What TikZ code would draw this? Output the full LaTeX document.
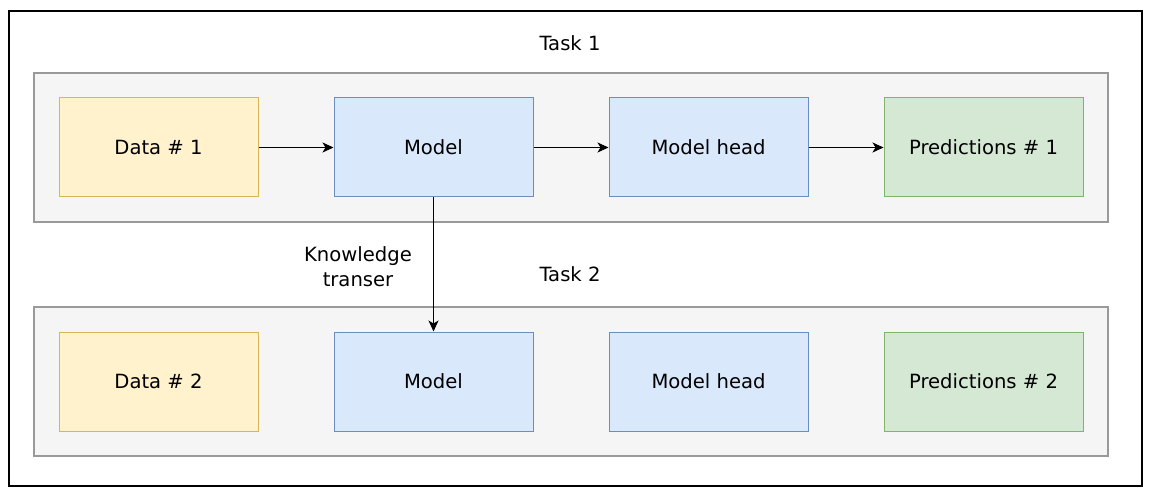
\documentclass[tikz,border=0pt]{standalone}
\usepackage{fontspec}
\setmainfont{DejaVu Sans}
\usetikzlibrary{arrows.meta}
\definecolor{yfill}{HTML}{FFF2CC}\definecolor{ydraw}{HTML}{D6B656}
\definecolor{bfill}{HTML}{DAE8FC}\definecolor{bdraw}{HTML}{6C8EBF}
\definecolor{gfill}{HTML}{D5E8D4}\definecolor{gdraw}{HTML}{82B366}
\definecolor{pfill}{HTML}{F5F5F5}\definecolor{pdraw}{HTML}{999999}
\begin{document}
\begin{tikzpicture}[x=1pt,y=-1pt,line width=1pt,
  every node/.style={font=\fontsize{19.6}{25}\selectfont},
  box/.style={draw,minimum width=199pt,minimum height=99pt,inner sep=0pt,anchor=center},
  ybox/.style={box,fill=yfill,draw=ydraw},
  bbox/.style={box,fill=bfill,draw=bdraw},
  gbox/.style={box,fill=gfill,draw=gdraw},
  panel/.style={fill=pfill,draw=pdraw,line width=1.2pt},
  conn/.style={-{Stealth[length=11pt,width=10pt,inset=3pt]},line width=1pt}]
\useasboundingbox (0,0) rectangle (1150,494);
\draw[line width=1.2pt] (9,11) rectangle (1142,486);
\node (t1) at (570,43) {Task 1};
\draw[panel] (34,73) rectangle (1108,222);
\node (t2) at (570,274) {Task 2};
\draw[panel] (34,307) rectangle (1108,456);
\node[ybox] (d1) at (158.5,147.5) {Data \# 1};
\node[bbox] (m1) at (433.5,147.5) {Model};
\node[bbox] (h1) at (708.5,147.5) {Model head};
\node[gbox] (p1) at (983.5,147.5) {Predictions \# 1};
\node[ybox] (d2) at (158.5,381.5) {Data \# 2};
\node[bbox] (m2) at (433.5,381.5) {Model};
\node[bbox] (h2) at (708.5,381.5) {Model head};
\node[gbox] (p2) at (983.5,381.5) {Predictions \# 2};
\draw[conn] (d1) -- (m1);
\draw[conn] (m1) -- (h1);
\draw[conn] (h1) -- (p1);
\draw[conn] (m1) -- (m2);
\node[align=center] (kt) at (358,267) {Knowledge\\transer};
\end{tikzpicture}
\end{document}
